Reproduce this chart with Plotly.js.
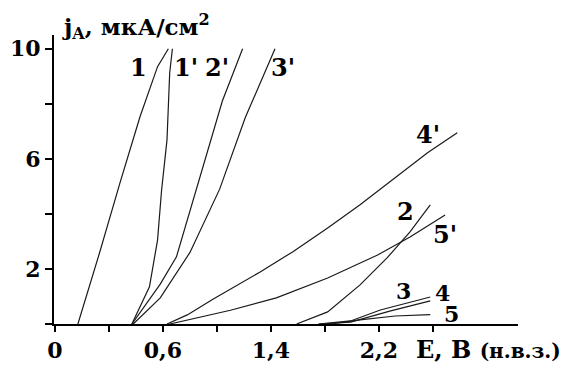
<!DOCTYPE html>
<html>
<head>
<meta charset="utf-8">
<script src="https://cdn.plot.ly/plotly-3.0.1.min.js"></script>
<style>
  body { margin: 0; background: white; }
  #plot { width: 563px; height: 369px; }
</style>
</head>
<body>
<div id="plot"></div>
<script>
// E, B (н.в.з.) and j_A, мкА/см2 for each curve
const e1 = [-0.03, 0.13, 0.28, 0.43, 0.56, 0.64];
const j1 = [0, 2.58, 5.1, 7.53, 9.35, 10.0];

const e1p = [0.37, 0.50, 0.56, 0.59, 0.63, 0.65, 0.67];
const j1p = [0, 1.35, 3.05, 4.87, 6.69, 9.13, 10.0];

const e2p = [0.37, 0.58, 0.70, 0.87, 1.04, 1.19];
const j2p = [0, 1.45, 2.44, 5.24, 8.1, 10.0];

const e3p = [0.38, 0.58, 0.80, 1.02, 1.21, 1.43];
const j3p = [0, 0.95, 2.6, 4.9, 7.5, 10.0];

const e4p = [0.63, 0.78, 0.97, 1.32, 1.56, 1.82, 2.06, 2.30, 2.56, 2.78];
const j4p = [0, 0.33, 0.9, 1.89, 2.62, 3.49, 4.33, 5.24, 6.22, 6.95];

const e5p = [0.65, 0.87, 1.1, 1.44, 1.82, 2.19, 2.43, 2.69];
const j5p = [0, 0.25, 0.5, 0.95, 1.67, 2.51, 3.16, 3.96];

const e2 = [1.59, 1.82, 2.06, 2.26, 2.43, 2.58];
const j2 = [0, 0.44, 1.42, 2.4, 3.35, 4.33];

const e3 = [1.75, 1.99, 2.21, 2.58];
const j3 = [0, 0.11, 0.51, 0.98];

const e4 = [1.76, 1.99, 2.28, 2.58];
const j4 = [0, 0.07, 0.47, 0.84];

const e5 = [1.84, 2.06, 2.32, 2.58];
const j5 = [0, 0.15, 0.29, 0.34];

const xTicks = [-0.2, 0.2, 0.6, 1.0, 1.4, 1.8, 2.2, 2.6];
const xLabels = ['0', '', '0,6', '', '1,4', '', '2,2', ''];
const yTicks = [0, 2, 4, 6, 8, 10];
const yLabels = ['', '2', '', '6', '', '10'];

const curves = [
    [e1, j1], [e1p, j1p], [e2p, j2p], [e3p, j3p], [e4p, j4p],
    [e5p, j5p], [e2, j2], [e3, j3], [e4, j4], [e5, j5]
];

const traces = curves.map(c => ({
    x: c[0],
    y: c[1],
    mode: 'lines',
    type: 'scatter',
    line: { color: '#1a1a1a', width: 1.2 },
    hoverinfo: 'skip'
}));

const serif = { family: 'DejaVu Serif', size: 22, color: 'black', weight: 'bold' };

function label(text, x, y, size) {
    return {
        text: text, x: x, y: y, xref: 'x', yref: 'y',
        showarrow: false, font: Object.assign({}, serif, { size: size || 24 })
    };
}

const layout = {
    width: 563,
    height: 369,
    margin: { l: 54, r: 45, t: 35, b: 45 },
    paper_bgcolor: 'white',
    plot_bgcolor: 'white',
    showlegend: false,
    xaxis: {
        range: [-0.207, 3.23],
        tickvals: xTicks,
        ticktext: xLabels,
        ticks: 'outside',
        ticklen: 6,
        tickwidth: 2,
        tickcolor: 'black',
        showline: true,
        linecolor: 'black',
        linewidth: 2,
        showgrid: false,
        zeroline: false,
        tickfont: serif
    },
    yaxis: {
        range: [0, 10.5],
        tickvals: yTicks,
        ticktext: yLabels,
        ticks: 'outside',
        ticklen: 7,
        tickwidth: 2,
        tickcolor: 'black',
        showline: true,
        linecolor: 'black',
        linewidth: 2,
        showgrid: false,
        zeroline: false,
        tickfont: serif
    },
    annotations: [
        {
            text: 'j<sub>A</sub>, мкА/см<sup>2</sup>',
            xref: 'paper', yref: 'paper', x: 0.012, y: 1.03,
            xanchor: 'left', yanchor: 'middle', showarrow: false,
            font: Object.assign({}, serif, { size: 23 })
        },
        {
            text: 'E, B <span style="font-size:20px">(н.в.з.)</span>',
            xref: 'paper', yref: 'paper', x: 1.097, y: -0.087,
            xanchor: 'right', yanchor: 'middle', showarrow: false,
            font: Object.assign({}, serif, { size: 24 })
        },
        label('1', 0.42, 9.31),
        label("1'", 0.77, 9.31),
        label("2'", 1.0, 9.31),
        label("3'", 1.49, 9.31),
        label("4'", 2.56, 6.87),
        label('2', 2.4, 4.07),
        label("5'", 2.69, 3.24),
        label('3', 2.38, 1.2, 22),
        label('4', 2.67, 1.12, 22),
        label('5', 2.74, 0.38, 22)
    ]
};

Plotly.newPlot('plot', traces, layout, { staticPlot: true });
</script>
</body>
</html>
